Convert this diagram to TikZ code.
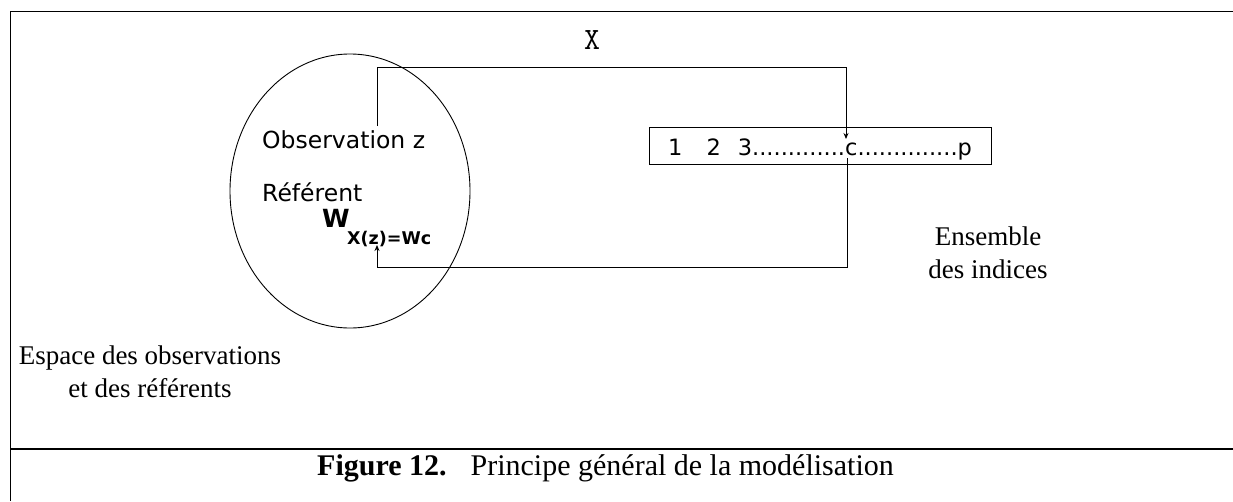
\documentclass[tikz,border=0pt]{standalone}
\usepackage{fontspec}
\setmainfont{Liberation Serif}
\setsansfont{DejaVu Sans}
\usetikzlibrary{arrows.meta}
\begin{document}
\begin{tikzpicture}[x=1pt,y=-1pt,
  frame/.style={line width=1.8pt},
  thin/.style={line width=0.9pt},
  conn/.style={line width=0.9pt,-{Stealth[length=6pt,width=5pt]}},
  sans/.style={font=\sffamily\fontsize{23.5}{28}\selectfont,inner sep=0pt},
  serif/.style={font=\fontsize{27}{33}\selectfont,inner sep=0pt}]
\useasboundingbox (0,0) rectangle (1233,501);
% frame
\draw[frame] (1233,11.5) -- (10.5,11.5) -- (10.5,501);
\draw[frame] (10.5,449) -- (1233,449);
% ellipse
\draw[thin] (350,191) ellipse [x radius=120, y radius=137];
% texts in ellipse
\node[sans,anchor=base west] (obs) at (262,148) {Observation z};
\node[sans,anchor=base west] (ref) at (262,201) {Référent};
\node[sans,font=\sffamily\bfseries\fontsize{25}{28}\selectfont,anchor=base west] (w) at (322,227) {W};
\node[sans,font=\sffamily\bfseries\fontsize{17.5}{20}\selectfont,anchor=base west] (wsub) at (347,244) {X(z)=Wc};
% index box
\node[draw,thin,minimum width=342pt,minimum height=37pt,inner sep=0pt] (box) at (820,145.5) {};
\node[sans,anchor=base west,font=\sffamily\fontsize{22.5}{26}\selectfont] (idx) at (668,155)
  {1\hspace{24pt}2\hspace{17pt}3.............c..............p};
% labels
\node[font=\ttfamily\fontsize{31}{34}\selectfont,inner sep=0pt,anchor=base] (xlab) at (592,49) {X};
\node[serif,align=center] (ens) at (988,253) {Ensemble\\des indices};
\node[serif,align=center] (esp) at (150,372) {Espace des observations\\et des référents};
\node[serif,font=\fontsize{30}{34}\selectfont,anchor=base west] (cap) at (317,475) {\textbf{Figure 12.}\hspace{24pt}Principe général de la modélisation};
% connectors
\coordinate (s1) at (377,126);
\coordinate (ctop) at (846,139);
\coordinate (cbot) at (847,158);
\coordinate (wtip) at (377,245);
\draw[conn] (s1) |- (ctop |- 0,67) -- (ctop);
\draw[conn] (cbot) |- (wtip |- 0,267) -- (wtip);
\end{tikzpicture}
\end{document}
